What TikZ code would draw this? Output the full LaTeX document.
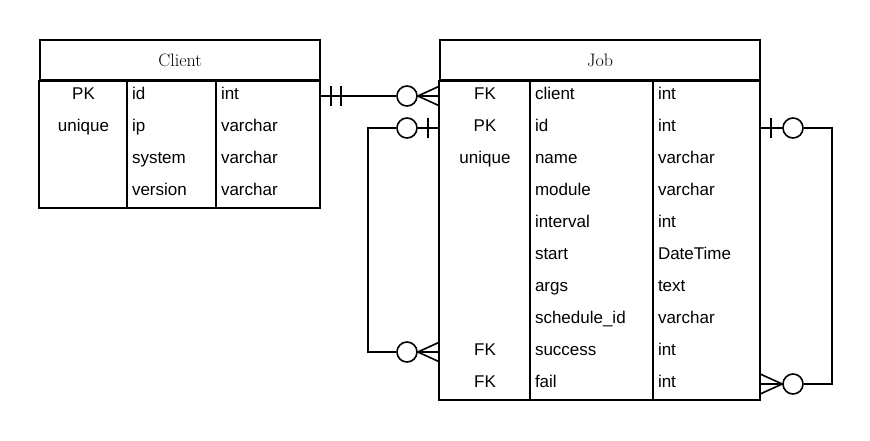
\documentclass[tikz,border=0pt]{standalone}
\usepackage{fontspec}
\setsansfont{Liberation Sans}
\usetikzlibrary{positioning}

\begin{document}
\begin{tikzpicture}[
    x=1pt, y=-1pt,
    tab/.style={line width=1.6pt},
    head/.style={draw, rectangle, line width=1.6pt, minimum height=40pt, font=\rmfamily\fontsize{18}{21}\selectfont},
    cell/.style={rectangle, minimum height=32pt, inner xsep=5pt, inner ysep=0pt, text height=10pt, text depth=4pt, font=\sffamily\fontsize{17}{20}\selectfont},
    keycell/.style={cell, align=center},
    txtcell/.style={cell, align=left},
    zero/.style={circle, draw, line width=1.6pt, fill=white, minimum size=20pt, inner sep=0pt},
    rel/.style={line width=1.6pt}
]
    \useasboundingbox (0,0) rectangle (870,440);

    % Client table
    \node[head, minimum width=280pt] (client) at (180,60) {Client};
    \node[keycell, text width=77pt] (c-key-0) at (83.5,96) {PK};
    \node[keycell, text width=77pt] (c-key-1) at (83.5,128) {unique};
    \node[txtcell, text width=79pt] (c-name-0) at (171.5,96) {id};
    \node[txtcell, text width=79pt] (c-name-1) at (171.5,128) {ip};
    \node[txtcell, text width=79pt] (c-name-2) at (171.5,160) {system};
    \node[txtcell, text width=79pt] (c-name-3) at (171.5,192) {version};
    \node[txtcell, text width=94pt] (c-type-0) at (268,96) {int};
    \node[txtcell, text width=94pt] (c-type-1) at (268,128) {varchar};
    \node[txtcell, text width=94pt] (c-type-2) at (268,160) {varchar};
    \node[txtcell, text width=94pt] (c-type-3) at (268,192) {varchar};
    \draw[tab] (client.south west) rectangle (c-type-3.south east);
    \draw[tab] (c-name-0.north west) -- (c-name-3.south west);
    \draw[tab] (c-type-0.north west) -- (c-type-3.south west);

    % Job table
    \node[head, minimum width=320pt] (job) at (600,60) {Job};
    \node[keycell, text width=80pt] (j-key-0) at (485,96) {FK};
    \node[keycell, text width=80pt] (j-key-1) at (485,128) {PK};
    \node[keycell, text width=80pt] (j-key-2) at (485,160) {unique};
    \node[keycell, text width=80pt] (j-key-8) at (485,352) {FK};
    \node[keycell, text width=80pt] (j-key-9) at (485,384) {FK};
    \node[txtcell, text width=113pt] (j-name-0) at (591.5,96) {client};
    \node[txtcell, text width=113pt] (j-name-1) at (591.5,128) {id};
    \node[txtcell, text width=113pt] (j-name-2) at (591.5,160) {name};
    \node[txtcell, text width=113pt] (j-name-3) at (591.5,192) {module};
    \node[txtcell, text width=113pt] (j-name-4) at (591.5,224) {interval};
    \node[txtcell, text width=113pt] (j-name-5) at (591.5,256) {start};
    \node[txtcell, text width=113pt] (j-name-6) at (591.5,288) {args};
    \node[txtcell, text width=113pt] (j-name-7) at (591.5,320) {schedule\_id};
    \node[txtcell, text width=113pt] (j-name-8) at (591.5,352) {success};
    \node[txtcell, text width=113pt] (j-name-9) at (591.5,384) {fail};
    \node[txtcell, text width=97pt] (j-type-0) at (706.5,96) {int};
    \node[txtcell, text width=97pt] (j-type-1) at (706.5,128) {int};
    \node[txtcell, text width=97pt] (j-type-2) at (706.5,160) {varchar};
    \node[txtcell, text width=97pt] (j-type-3) at (706.5,192) {varchar};
    \node[txtcell, text width=97pt] (j-type-4) at (706.5,224) {int};
    \node[txtcell, text width=97pt] (j-type-5) at (706.5,256) {DateTime};
    \node[txtcell, text width=97pt] (j-type-6) at (706.5,288) {text};
    \node[txtcell, text width=97pt] (j-type-7) at (706.5,320) {varchar};
    \node[txtcell, text width=97pt] (j-type-8) at (706.5,352) {int};
    \node[txtcell, text width=97pt] (j-type-9) at (706.5,384) {int};
    \draw[tab] (job.south west) rectangle (j-type-9.south east);
    \draw[tab] (j-name-0.north west) -- (j-name-9.south west);
    \draw[tab] (j-type-0.north west) -- (j-type-9.south west);

    % Client.id -> Job.client
    \node[zero, left=22pt of j-key-0.west] (o-client) {};
    \draw[rel] (c-type-0.east) -- (o-client.west);
    \draw[rel] ([xshift=11pt]c-type-0.east) ++(0,-10) -- ++(0,20);
    \draw[rel] ([xshift=21pt]c-type-0.east) ++(0,-10) -- ++(0,20);
    \draw[rel] ([yshift=10pt]j-key-0.west) -- (o-client.east) -- ([yshift=-10pt]j-key-0.west);
    \draw[rel] (o-client.east) -- (j-key-0.west);

    % Job.id -> Job.success
    \node[zero, left=22pt of j-key-1.west] (o-id-l) {};
    \node[zero, left=22pt of j-key-8.west] (o-succ) {};
    \draw[rel] (o-id-l.east) -- (j-key-1.west);
    \draw[rel] ([xshift=-12pt]j-key-1.west) ++(0,-10) -- ++(0,20);
    \draw[rel] (o-id-l.west) -- ++(-28,0) |- (o-succ.west);
    \draw[rel] ([yshift=10pt]j-key-8.west) -- (o-succ.east) -- ([yshift=-10pt]j-key-8.west);
    \draw[rel] (o-succ.east) -- (j-key-8.west);

    % Job.id -> Job.fail
    \node[zero, right=22pt of j-type-1.east] (o-id-r) {};
    \node[zero, right=22pt of j-type-9.east] (o-fail) {};
    \draw[rel] (j-type-1.east) -- (o-id-r.west);
    \draw[rel] ([xshift=11pt]j-type-1.east) ++(0,-10) -- ++(0,20);
    \draw[rel] (o-id-r.east) -- ++(28,0) |- (o-fail.east);
    \draw[rel] ([yshift=10pt]j-type-9.east) -- (o-fail.west) -- ([yshift=-10pt]j-type-9.east);
    \draw[rel] (o-fail.west) -- (j-type-9.east);
\end{tikzpicture}
\end{document}
